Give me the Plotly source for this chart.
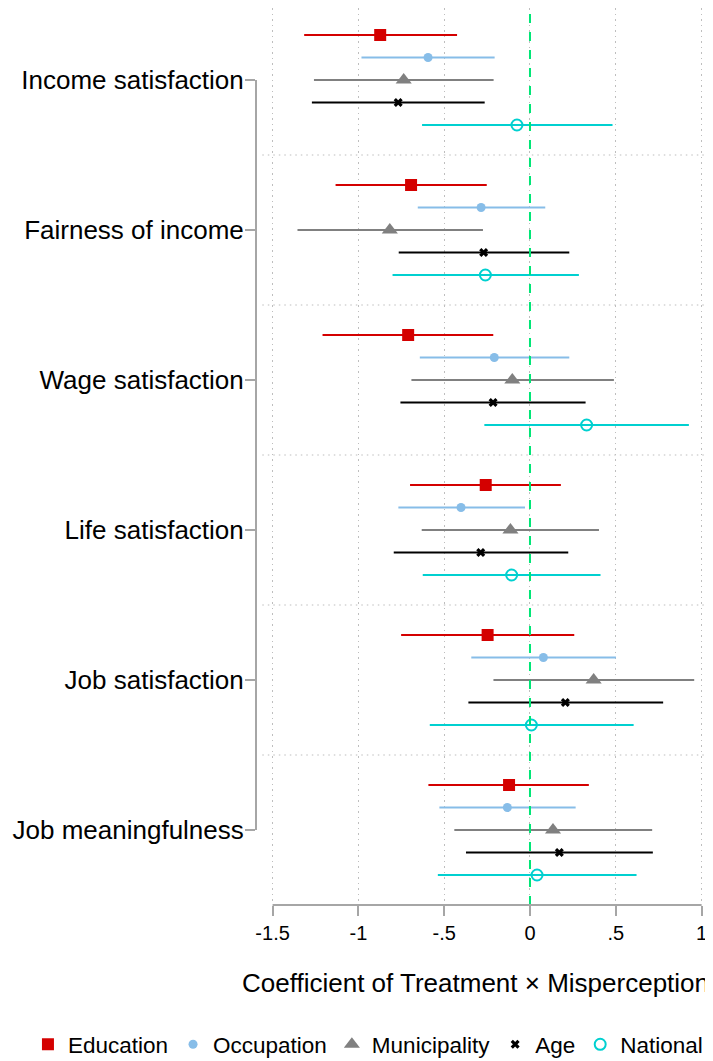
import plotly.graph_objects as go

# outcomes (top to bottom) and coefficient estimates with 95% CIs
outcomes = ["Income satisfaction", "Fairness of income", "Wage satisfaction",
            "Life satisfaction", "Job satisfaction", "Job meaningfulness"]

edu_pt = [-0.873, -0.693, -0.710, -0.258, -0.247, -0.122]
edu_lo = [-1.316, -1.133, -1.209, -0.699, -0.751, -0.592]
edu_hi = [-0.425, -0.252, -0.214, 0.180, 0.258, 0.343]

occ_pt = [-0.594, -0.285, -0.208, -0.402, 0.078, -0.132]
occ_lo = [-0.982, -0.654, -0.642, -0.767, -0.342, -0.528]
occ_hi = [-0.206, 0.089, 0.229, -0.029, 0.501, 0.266]

mun_pt = [-0.736, -0.817, -0.103, -0.114, 0.371, 0.134]
mun_lo = [-1.259, -1.355, -0.691, -0.631, -0.213, -0.441]
mun_hi = [-0.212, -0.274, 0.489, 0.402, 0.957, 0.712]

age_pt = [-0.768, -0.270, -0.215, -0.287, 0.206, 0.171]
age_lo = [-1.271, -0.765, -0.755, -0.794, -0.359, -0.373]
age_hi = [-0.264, 0.229, 0.324, 0.223, 0.776, 0.716]

nat_pt = [-0.076, -0.260, 0.330, -0.107, 0.008, 0.041]
nat_lo = [-0.629, -0.801, -0.266, -0.625, -0.584, -0.537]
nat_hi = [0.481, 0.285, 0.926, 0.411, 0.604, 0.621]

x_ticks = [-1.5, -1, -0.5, 0, 0.5, 1]
x_ticktext = ["-1.5", "-1", "-.5", "0", ".5", "1"]

series = [
    ("Education", edu_pt, edu_lo, edu_hi, "#D40000", dict(symbol="square", size=12)),
    ("Occupation", occ_pt, occ_lo, occ_hi, "#87BDE8", dict(symbol="circle", size=9)),
    ("Municipality", mun_pt, mun_lo, mun_hi, "#808080", dict(symbol="triangle-up", size=14)),
    ("Age", age_pt, age_lo, age_hi, "#000000", dict(symbol="x", size=8)),
    ("National", nat_pt, nat_lo, nat_hi, "#00D0D0",
     dict(symbol="circle-open", size=11, line=dict(width=2))),
]

FONT = "Liberation Sans, Arial, Helvetica, sans-serif"
AXIS_GRAY = "#A6A6A6"
GRID_GRAY = "#BEBEBE"
DOTS = "1.5px,4px"

fig = go.Figure()

for k, (name, pt, lo, hi, color, mk) in enumerate(series):
    ypos = [i + (k - 2) * 0.15 for i in range(len(outcomes))]
    fig.add_trace(go.Scatter(
        x=pt, y=ypos, mode="markers", name=name,
        marker=dict(color=color, **mk),
        error_x=dict(type="data", symmetric=False,
                     array=[h - p for h, p in zip(hi, pt)],
                     arrayminus=[p - l for p, l in zip(pt, lo)],
                     color=color, thickness=2, width=0),
        cliponaxis=False,
    ))

# page body has an 8px margin, so the figure is laid out 8px up/left of target
x_min, x_max = -1.5967, 1.0665

shapes = []
# horizontal separators between outcomes
for i in range(len(outcomes) - 1):
    shapes.append(dict(type="line", xref="x", yref="y", x0=-1.56, x1=x_max,
                       y0=i + 0.5, y1=i + 0.5,
                       line=dict(color=GRID_GRAY, width=1.2, dash=DOTS), layer="below"))
# zero reference line
shapes.append(dict(type="line", xref="x", yref="paper", x0=0, x1=0, y0=0, y1=1,
                   line=dict(color="#00E676", width=2, dash="dash"), layer="above"))
# axis lines spanning only the tick range
shapes.append(dict(type="line", xref="x", yref="paper", x0=-1.5, x1=1, y0=0, y1=0,
                   line=dict(color=AXIS_GRAY, width=2)))
shapes.append(dict(type="line", xref="paper", yref="y", x0=0, x1=0, y0=0, y1=5,
                   line=dict(color=AXIS_GRAY, width=2)))

fig.update_layout(
    width=713, height=1061,
    margin=dict(l=248, r=8, t=0, b=164),
    paper_bgcolor="white", plot_bgcolor="white",
    font=dict(family=FONT, color="black"),
    shapes=shapes,
    xaxis=dict(range=[x_min, x_max], tickvals=x_ticks, ticktext=x_ticktext,
               showgrid=True, gridcolor=GRID_GRAY, griddash=DOTS, gridwidth=1.2,
               zeroline=False, showline=False, automargin=False,
               ticks="outside", ticklen=10, tickwidth=2, tickcolor=AXIS_GRAY,
               tickfont=dict(size=20, family=FONT)),
    yaxis=dict(range=[5.5, -0.48], tickvals=list(range(len(outcomes))), ticktext=outcomes,
               showgrid=False, zeroline=False, showline=False, automargin=False,
               ticks="outside", ticklen=10, tickwidth=2, tickcolor=AXIS_GRAY,
               ticklabelstandoff=-4,
               tickfont=dict(size=26, family=FONT)),
    annotations=[dict(text="Coefficient of Treatment \u00d7 Misperception",
                      xref="paper", yref="paper", x=0.4814, y=-0.087,
                      xanchor="center", yanchor="middle", showarrow=False,
                      font=dict(size=26, family=FONT))],
    legend=dict(orientation="h", x=-0.499, xanchor="left", y=-0.1557, yanchor="middle",
                font=dict(size=22.5, family=FONT), bgcolor="rgba(0,0,0,0)",
                itemsizing="trace"),
)

fig.write_html("out.html")
